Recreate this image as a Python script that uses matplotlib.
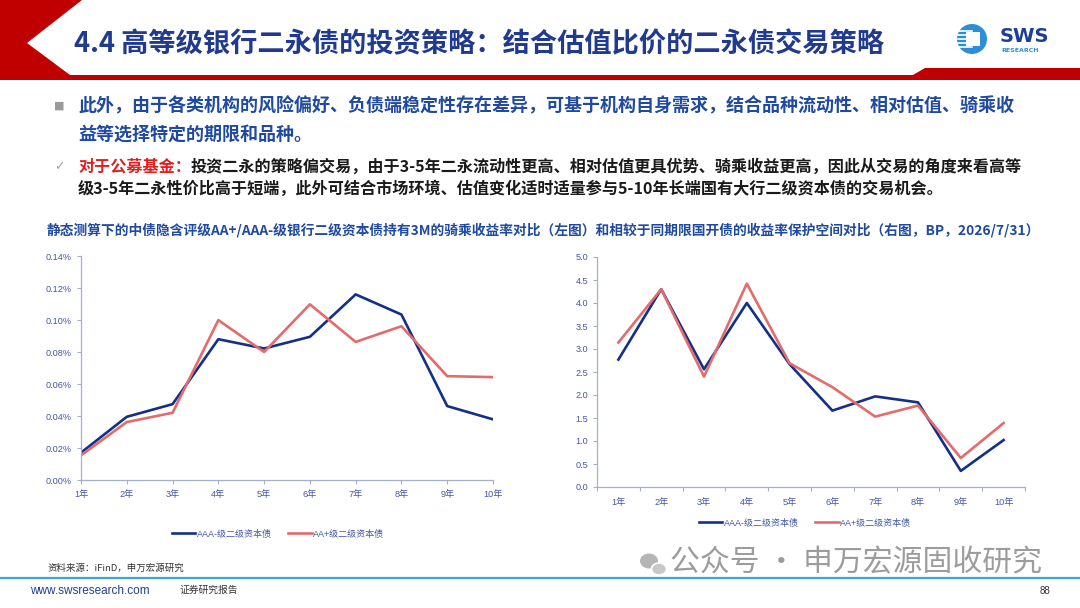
import matplotlib
matplotlib.use("Agg")
import matplotlib.pyplot as plt
import numpy as np
from matplotlib.patches import Polygon, Circle, Ellipse

plt.rcParams['font.family'] = ['Noto Sans CJK SC', 'DejaVu Sans']

# ---- data ----
years = ["1年", "2年", "3年", "4年", "5年", "6年", "7年", "8年", "9年", "10年"]
series_names = ["AAA-级二级资本债", "AA+级二级资本债"]
# left: 3M riding yield (%)
ride_aaa = [0.0171, 0.0395, 0.0474, 0.0880, 0.0822, 0.0895, 0.1160, 0.1034, 0.0462, 0.0379]
ride_aap = [0.0154, 0.0362, 0.0420, 0.0999, 0.0800, 0.1098, 0.0863, 0.0961, 0.0649, 0.0643]
# right: protection vs CDB (BP)
prot_aaa = [2.77, 4.30, 2.56, 4.00, 2.67, 1.66, 1.97, 1.84, 0.35, 1.02]
prot_aap = [3.14, 4.30, 2.40, 4.42, 2.69, 2.17, 1.53, 1.77, 0.63, 1.39]
left_yticks = [0, 0.02, 0.04, 0.06, 0.08, 0.10, 0.12, 0.14]
right_yticks = [0, 0.5, 1.0, 1.5, 2.0, 2.5, 3.0, 3.5, 4.0, 4.5, 5.0]

title = "4.4 高等级银行二永债的投资策略：结合估值比价的二永债交易策略"
para1 = ["此外，由于各类机构的风险偏好、负债端稳定性存在差异，可基于机构自身需求，结合品种流动性、相对估值、骑乘收",
         "益等选择特定的期限和品种。"]
para2_head = "对于公募基金："
para2 = ["投资二永的策略偏交易，由于3-5年二永流动性更高、相对估值更具优势、骑乘收益更高，因此从交易的角度来看高等",
         "级3-5年二永性价比高于短端，此外可结合市场环境、估值变化适时适量参与5-10年长端国有大行二级资本债的交易机会。"]
caption = "静态测算下的中债隐含评级AA+/AAA-级银行二级资本债持有3M的骑乘收益率对比（左图）和相较于同期限国开债的收益率保护空间对比（右图，BP，2026/7/31）"
source = "资料来源：iFinD，申万宏源研究"

W, H = 1080, 608
NAVY = "#12308A"
RED = "#E46B6B"
AXC = "#A3B0CC"
TICKC = "#4557A3"
TXTBLUE = "#1F4AA0"
tickfont = ['Liberation Sans', 'Noto Sans CJK SC']

fig = plt.figure(figsize=(W / 100, H / 100), dpi=100)
bg = fig.add_axes([0, 0, 1, 1])
bg.set_xlim(0, W)
bg.set_ylim(H, 0)
bg.axis('off')

# header band
bg.add_patch(Polygon([(0, 0), (82, 0), (27, 43), (70, 75), (913, 75), (925, 68),
                      (W, 68), (W, 80), (0, 80)], closed=True, fc="#C00000", ec="none"))
bg.text(74, 44, title, fontsize=19.6, fontweight='bold', color="#1F3A8F", va='center', ha='left')

# logo
bg.add_patch(Circle((972, 39), 15, fc="#2B8FD8", ec="none"))
for k in range(5):
    bg.plot([958, 972], [31 + k * 4, 31 + k * 4], color="white", lw=1.2)
bg.add_patch(Polygon([(966, 32), (980, 32), (980, 46), (966, 46)], fc="white", ec="none"))
bg.text(1000, 36, "SWS", fontsize=14, fontweight='bold', color="#1B3F99", va='center',
        family=['DejaVu Sans'])
bg.text(1001, 51, "RESEARCH", fontsize=4.5, fontweight='bold', color="#2B8FD8", va='center',
        family=['DejaVu Sans'])

# body text
bg.text(54, 106, "■", fontsize=8, color="#9A9A9A", va='center', family=['DejaVu Sans'])
bg.text(78, 106, para1[0], fontsize=13.0, fontweight='bold', color=TXTBLUE, va='center')
bg.text(78, 134, para1[1], fontsize=13.0, fontweight='bold', color=TXTBLUE, va='center')
bg.text(54, 167, "✓", fontsize=9, color="#A0A0A0", va='center', family=['DejaVu Sans'])
head = bg.text(78, 167, para2_head, fontsize=11.6, fontweight='bold', color="#E02020", va='center')
bg.annotate(para2[0], xy=(1, 0.5), xycoords=head, fontsize=11.6, fontweight='bold',
            color="#1A1A1A", va='center', ha='left')
bg.text(78, 188, para2[1], fontsize=11.6, fontweight='bold', color="#1A1A1A", va='center')
bg.text(47, 230, caption, fontsize=9.9, fontweight='bold', color=TXTBLUE, va='center')


def px_axes(x0, y0, x1, y1):
    return fig.add_axes([x0 / W, 1 - y1 / H, (x1 - x0) / W, (y1 - y0) / H])


def style(ax):
    for s in ['top', 'right']:
        ax.spines[s].set_visible(False)
    for s in ['left', 'bottom']:
        ax.spines[s].set_color(AXC)
        ax.spines[s].set_linewidth(0.9)
    ax.tick_params(colors=AXC, labelcolor=TICKC, labelsize=6.6, length=3, width=0.8)
    for lab in ax.get_xticklabels(which='both') + ax.get_yticklabels():
        lab.set_family(tickfont)
    ax.patch.set_alpha(0)


# left chart
axl = px_axes(81, 256, 493, 480)
x = np.arange(len(years))
axl.plot(x, ride_aaa, color=NAVY, lw=1.9, label=series_names[0])
axl.plot(x, ride_aap, color=RED, lw=1.9, label=series_names[1])
axl.set_xlim(0, len(years) - 1)
axl.set_ylim(0, 0.14)
axl.set_yticks(left_yticks)
axl.set_yticklabels(["%.2f%%" % v for v in left_yticks])
axl.set_xticks(x)
axl.set_xticklabels(years)
axl.tick_params(axis='x', pad=4)
style(axl)
axl.legend(loc='center', bbox_to_anchor=(278 / W, 1 - 534 / H), bbox_transform=fig.transFigure,
           ncol=2, frameon=False, handlelength=2.6, columnspacing=1.8,
           handletextpad=0.15, labelcolor=TICKC, prop={'family': tickfont, 'size': 6.5})

# right chart
axr = px_axes(597, 257, 1025, 487)
axr.plot(x, prot_aaa, color=NAVY, lw=1.9, label=series_names[0])
axr.plot(x, prot_aap, color=RED, lw=1.9, label=series_names[1])
axr.set_xlim(-0.5, len(years) - 0.5)
axr.set_ylim(0, 5.0)
axr.set_yticks(right_yticks)
axr.set_yticklabels(["%.1f" % v for v in right_yticks])
axr.set_xticks(np.arange(-0.5, len(years), 1.0))
axr.set_xticklabels([])
axr.set_xticks(x, minor=True)
axr.set_xticklabels(years, minor=True)
style(axr)
axr.tick_params(axis='x', which='minor', length=0, pad=8, labelsize=6.6, labelcolor=TICKC)
axr.legend(loc='center', bbox_to_anchor=(805 / W, 1 - 523 / H), bbox_transform=fig.transFigure,
           ncol=2, frameon=False, handlelength=2.6, columnspacing=1.8,
           handletextpad=0.15, labelcolor=TICKC, prop={'family': tickfont, 'size': 6.5})

# footer
bg.text(48, 568, source, fontsize=6.8, color="#333333", va='center')
bg.add_patch(Ellipse((649, 561), 18, 15, fc="#B5B5B5", ec="none"))
bg.add_patch(Ellipse((659, 569), 15, 12, fc="#C8C8C8", ec="white", lw=1.2))
bg.text(670, 563, "公众号 · 申万宏源固收研究", fontsize=21.5, color="#9C9C9C", va='center')
bg.plot([0, W], [578, 578], color="#3EA6DF", lw=1.6)
bg.text(30, 591, "www.swsresearch.com", fontsize=8.5, color="#1F3F8F", va='center',
        family=['Liberation Sans Narrow', 'Liberation Sans'])
bg.text(180, 590, "证券研究报告", fontsize=7, color="#333333", va='center')
bg.text(1050, 591, "88", fontsize=7, color="#333333", va='center', ha='right',
        family=['Liberation Sans'])

fig.savefig("out.png", dpi=100)
